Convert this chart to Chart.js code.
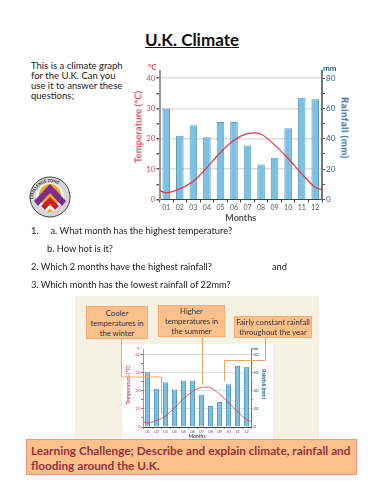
<!DOCTYPE html>
<html lang="en">
<head>
  <meta charset="UTF-8" />
  <title>U.K. Climate</title>
  <script src="https://cdn.jsdelivr.net/npm/chart.js"></script>
  <style>
    html, body { margin: 0; padding: 0; background: #fff; }
    body { position: relative; width: 386px; height: 500px; overflow: hidden; font-family: Lato, sans-serif; color: #222; }
    .abs { position: absolute; white-space: nowrap; }
    canvas { position: absolute; display: block; }
    #title { left: 0; width: 384px; top: 29px; text-align: center; font-size: 17px; font-weight: 700; text-decoration: underline; color: #111; }
    #intro { left: 31px; top: 61px; font-size: 9.5px; line-height: 10px; }
    .q { font-size: 9.3px; }
    #panel { left: 75px; top: 296px; width: 244px; height: 143px; background: #f6f2e3; }
    #inner { left: 122px; top: 344px; width: 151px; height: 95px; background: #fff; }
    .note { background: #fcc08c; border: 1px solid #f5ad72; box-sizing: border-box; text-align: center; font-size: 7.7px; line-height: 10px; color: #333; display: flex; align-items: center; justify-content: center; }
    #banner { left: 26px; top: 439px; width: 331px; height: 36px; box-sizing: border-box; background: #fcc08c; border: 1px solid #ee9480; color: #96323c; font-weight: 700; font-size: 11.8px; line-height: 15px; padding: 3px 4px; }
    .unit { font-size: 8px; font-weight: 700; }
    .vt { font-weight: 700; transform: translate(-50%, -50%) rotate(-90deg); }
    .vt.r { transform: translate(-50%, -50%) rotate(90deg); }
    svg { position: absolute; }
  </style>
</head>
<body>
  <div id="title" class="abs">U.K. Climate</div>
  <div id="intro" class="abs">This is a climate graph<br>for the U.K. Can you<br>use it to answer these<br>questions;</div>

  <!-- Challenge zone badge -->
  <svg style="left:28px;top:175px" width="44" height="44" viewBox="0 0 44 44">
    <defs><path id="arc" d="M5 24 A17 17 0 0 1 39 24"/></defs>
    <circle cx="22" cy="22" r="20" fill="#d5d5d8" stroke="#444" stroke-width="1"/>
    <circle cx="22" cy="22" r="14" fill="#fff"/>
    <circle cx="22" cy="20" r="11" fill="#f2a71d"/>
    <text font-size="4" font-weight="700" fill="#222"><textPath href="#arc">CHALLENGE ZONE</textPath></text>
    <polygon points="22,9 38,26 34,31 22,18 10,31 6,26" fill="#7a2c8f"/>
    <polygon points="22,22 31,31 27,35 22,29 17,35 13,31" fill="#c8202c"/>
    <polygon points="22,33 25,37 19,37" fill="#f2a71d"/>
  </svg>

  <canvas id="mainChart" style="left:130px;top:50px" width="240" height="180"></canvas>
  <div class="abs unit" style="left:148px;top:62px;color:#d94a55">°C</div>
  <div class="abs unit" style="left:323px;top:63px;color:#1f5f94">mm</div>
  <div class="abs vt" style="left:137.5px;top:127px;font-size:9.6px;color:#d94a55">Temperature (°C)</div>
  <div class="abs vt r" style="left:345px;top:128px;font-size:9.6px;letter-spacing:.5px;color:#1f5f94">Rainfall (mm)</div>

  <div class="abs q" style="left:31px;top:225px">1.&nbsp;&nbsp;&nbsp;&nbsp;&nbsp;a. What month has the highest temperature?</div>
  <div class="abs q" style="left:47px;top:243px">b. How hot is it?</div>
  <div class="abs q" style="left:31px;top:261px">2. Which 2 months have the highest rainfall?</div>
  <div class="abs q" style="left:272px;top:261px">and</div>
  <div class="abs q" style="left:31px;top:279px">3. Which month has the lowest rainfall of 22mm?</div>

  <div id="panel" class="abs"></div>
  <div id="inner" class="abs"></div>
  <canvas id="smallChart" style="left:122px;top:344px" width="151" height="95"></canvas>
  <div class="abs" style="left:136px;top:346px;font-size:4.5px;color:#d94a55">°C</div>
  <div class="abs" style="left:251px;top:346px;font-size:4.5px;font-weight:700;color:#1f5f94">mm</div>
  <div class="abs vt" style="left:128px;top:385px;font-size:5.2px;color:#d94a55">Temperature (°C)</div>
  <div class="abs vt r" style="left:264px;top:384px;font-size:5.2px;color:#1f5f94">Rainfall (mm)</div>

  <div class="abs note" style="left:86px;top:306px;width:62px;height:33px">Cooler<br>temperatures in<br>the winter</div>
  <div class="abs note" style="left:158px;top:305px;width:67px;height:32px">Higher<br>temperatures in<br>the summer</div>
  <div class="abs note" style="left:234px;top:316px;width:78px;height:22px">Fairly constant rainfall<br>throughout the year</div>

  <!-- callout leaders -->
  <svg style="left:0;top:0" width="386" height="500" fill="none" stroke="#f0a860" stroke-width="1">
    <polyline points="121.5,339 121.5,377 161.5,377 161.5,414"/>
    <polyline points="202.5,337 202.5,385"/>
    <polyline points="265.5,338 265.5,360.5 224.5,360.5 224.5,381"/>
  </svg>

  <div id="banner" class="abs">Learning Challenge; Describe and explain climate, rainfall and<br>flooding around the U.K.</div>

  <script>
    const months = ['01', '02', '03', '04', '05', '06', '07', '08', '09', '10', '11', '12'];
    const rainfall = [60, 42, 49, 41, 51, 51, 35.5, 23, 27.5, 47, 67, 66];
    const tempPositions = [0.5, 1, 2, 3, 4, 5, 6, 7, 8, 9, 10, 11, 12, 12.5];
    const tempValues = [3, 2.2, 3.5, 6, 10.5, 15.5, 19.5, 21.7, 21.5, 18, 13.5, 8.5, 4, 3.2];
    const xTitle = 'Months';

    const RED = '#d94a55';
    const BLUE = '#1f5f94';

    // same chart twice, only the box and font sizes differ
    function climateChart(id, s) {
      return new Chart(document.getElementById(id).getContext('2d'), {
        type: 'bar',
        data: {
          labels: months,
          datasets: [
            {
              type: 'line',
              data: tempPositions.map((p, i) => ({ x: p, y: tempValues[i] })),
              xAxisID: 'xLine',
              yAxisID: 'yTemp',
              borderColor: '#e8343f',
              borderWidth: s.lineWidth,
              pointRadius: 0,
              tension: 0.3,
              order: 0
            },
            {
              data: rainfall,
              xAxisID: 'x',
              yAxisID: 'yRain',
              backgroundColor: '#7cc0e2',
              borderColor: '#5a9dc2',
              borderWidth: 1,
              categoryPercentage: 1,
              barPercentage: 0.56,
              grouped: false,
              order: 1
            }
          ]
        },
        options: {
          responsive: false,
          animation: false,
          layout: { padding: { top: s.top, left: 0, right: 0, bottom: 0 } },
          plugins: { legend: { display: false }, tooltip: { enabled: false } },
          scales: {
            x: {
              afterFit: sc => { sc.height = s.bottom; },
              border: { color: '#444', width: 1 },
              grid: { drawOnChartArea: false, color: '#444', tickLength: s.tick },
              ticks: { color: '#555', font: { size: s.small }, padding: 1, maxRotation: 0, autoSkip: false },
              title: { display: true, text: xTitle, color: '#555', font: { size: s.title, weight: 'bold' }, padding: { top: 0, bottom: s.titlePad } }
            },
            // the red line runs past the first and last month, so it gets its own hidden x scale
            xLine: { type: 'linear', display: false, offset: false, grid: { offset: false }, min: 0.5, max: 12.5 },
            // axes run a little past the last labelled tick
            yTemp: {
              position: 'left',
              min: 0,
              max: 42.5,
              afterFit: sc => { sc.width = s.left; },
              border: { color: '#999', width: s.axis },
              grid: {
                color: c => (c.tick.value % 10 === 0 && c.tick.value > 0 ? '#dedede' : 'rgba(0,0,0,0)'),
                tickColor: '#555',
                tickLength: s.tick,
                lineWidth: s.gridWidth
              },
              ticks: {
                stepSize: 5,
                includeBounds: false,
                autoSkip: false,
                color: RED,
                font: { size: s.label },
                padding: 1,
                callback: v => (v % 10 === 0 ? v : '')
              }
            },
            yRain: {
              position: 'right',
              min: 0,
              max: 85,
              afterFit: sc => { sc.width = s.right; },
              border: { color: '#777', width: s.axis },
              grid: { drawOnChartArea: false, tickColor: '#555', tickLength: s.tick },
              ticks: {
                stepSize: 10,
                includeBounds: false,
                autoSkip: false,
                color: BLUE,
                font: { size: s.label },
                padding: 1,
                callback: v => (v % 20 === 0 ? v : '')
              }
            }
          }
        }
      });
    }

    Chart.defaults.font.family = 'Lato, sans-serif';

    climateChart('mainChart', {
      top: 20.5, bottom: 30.5, left: 29.5, right: 48,
      small: 7, label: 8, title: 9, tick: 3, axis: 2, gridWidth: 1.5,
      lineWidth: 1.2, titlePad: 7
    });
    climateChart('smallChart', {
      top: 5.5, bottom: 12, left: 21, right: 22,
      small: 4, label: 4.5, title: 5, tick: 1.5, axis: 1, gridWidth: 1,
      lineWidth: 0.8, titlePad: 0
    });
  </script>
</body>
</html>
